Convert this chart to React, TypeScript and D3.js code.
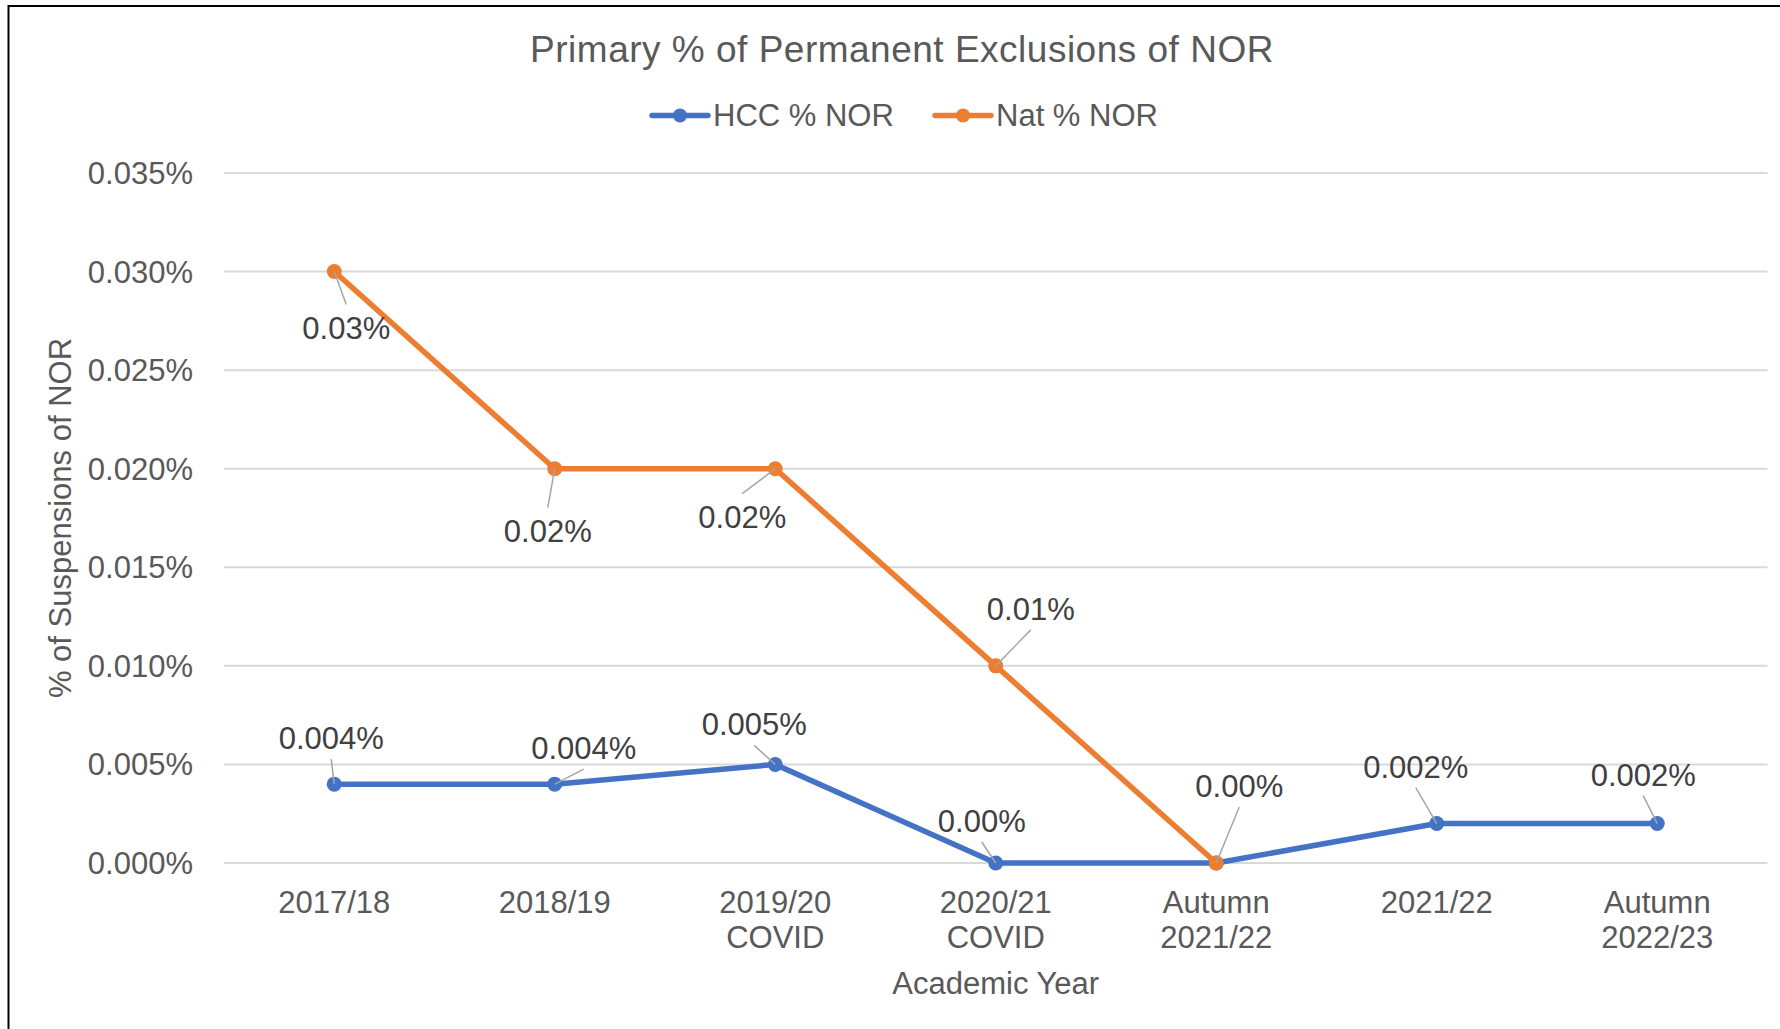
import React, { useRef, useEffect } from 'react';
import * as d3 from 'd3';

const categories = [
  '2017/18',
  '2018/19',
  '2019/20 COVID',
  '2020/21 COVID',
  'Autumn 2021/22',
  '2021/22',
  'Autumn 2022/23',
];

// values are already in percent units (0.004 means 0.004%)
const hccValues = [0.004, 0.004, 0.005, 0, 0, 0.002, 0.002];
const natValues = [0.03, 0.02, 0.02, 0.01, 0, null, null];

const yTicks = [0, 0.005, 0.01, 0.015, 0.02, 0.025, 0.03, 0.035];

// where each data label sits relative to its point (null = no label)
const hccLabelOffsets = [[-3, -46], [29, -36], [-21, -40], [-14, -42], null, [-21, -57], [-14, -49]];
const natLabelOffsets = [[12, 56], [-7, 62], [-33, 48], [35, -57], [23, -77], null, null];

const FONT = "'Liberation Sans', Arial, Helvetica, sans-serif";

const App = () => {
  const svgRef = useRef(null);

  useEffect(() => {
    const svg = d3.select(svgRef.current);
    svg.selectAll('*').remove();

    const width = 1780;
    const height = 1029;
    const left = 224;
    const right = 1767.5;
    const top = 173;
    const bottom = 863;

    svg.append('rect').attr('width', width).attr('height', height).attr('fill', '#fff');

    // chart frame (only left and top edges visible in the crop)
    svg.append('rect')
      .attr('x', 8.5).attr('y', 6)
      .attr('width', width + 20).attr('height', height + 20)
      .attr('fill', 'none')
      .attr('stroke', '#000')
      .attr('stroke-width', 2);

    const x = d3.scaleBand().domain(categories).range([left, right]).padding(0);
    const cx = (i) => x(categories[i]) + x.bandwidth() / 2;
    const y = d3.scaleLinear().domain([0, 0.035]).range([bottom, top]);

    // gridlines
    svg.append('g')
      .selectAll('line')
      .data(yTicks)
      .join('line')
      .attr('x1', left).attr('x2', right)
      .attr('y1', d => y(d)).attr('y2', d => y(d))
      .attr('stroke', '#d9d9d9')
      .attr('stroke-width', 2);

    // y tick labels
    svg.append('g')
      .selectAll('text')
      .data(yTicks)
      .join('text')
      .attr('x', 193)
      .attr('y', d => y(d) + 11)
      .attr('text-anchor', 'end')
      .attr('font-family', FONT)
      .attr('font-size', 31)
      .attr('fill', '#595959')
      .text(d => d.toFixed(3) + '%');

    // x tick labels (wrapped on spaces)
    const xLab = svg.append('g');
    categories.forEach((c, i) => {
      const t = xLab.append('text')
        .attr('x', cx(i))
        .attr('y', 913)
        .attr('text-anchor', 'middle')
        .attr('font-family', FONT)
        .attr('font-size', 31)
        .attr('fill', '#595959');
      c.split(' ').forEach((w, j) => {
        t.append('tspan').attr('x', cx(i)).attr('y', 913 + j * 35).text(w);
      });
    });

    // axis titles
    svg.append('text')
      .attr('x', (left + right) / 2)
      .attr('y', 994)
      .attr('text-anchor', 'middle')
      .attr('font-family', FONT)
      .attr('font-size', 31)
      .attr('fill', '#595959')
      .text('Academic Year');

    svg.append('text')
      .attr('transform', `translate(71,${(top + bottom) / 2}) rotate(-90)`)
      .attr('text-anchor', 'middle')
      .attr('font-family', FONT)
      .attr('font-size', 31)
      .attr('fill', '#595959')
      .text('% of Suspensions of NOR');

    // title
    svg.append('text')
      .attr('x', 902)
      .attr('y', 62)
      .attr('text-anchor', 'middle')
      .attr('font-family', FONT)
      .attr('font-size', 37)
      .attr('letter-spacing', 0.5)
      .attr('fill', '#595959')
      .text('Primary % of Permanent Exclusions of NOR');

    const series = [
      { name: 'HCC % NOR', values: hccValues, color: '#4472c4', offsets: hccLabelOffsets, legendX: 652 },
      { name: 'Nat % NOR', values: natValues, color: '#ed7d31', offsets: natLabelOffsets, legendX: 935 },
    ];

    // legend
    series.forEach(s => {
      const g = svg.append('g');
      g.append('line')
        .attr('x1', s.legendX).attr('x2', s.legendX + 56)
        .attr('y1', 115.5).attr('y2', 115.5)
        .attr('stroke', s.color).attr('stroke-width', 5.5).attr('stroke-linecap', 'round');
      g.append('circle')
        .attr('cx', s.legendX + 28).attr('cy', 115.5).attr('r', 7)
        .attr('fill', s.color);
      g.append('text')
        .attr('x', s.legendX + 61)
        .attr('y', 126)
        .attr('font-family', FONT)
        .attr('font-size', 31)
        .attr('fill', '#595959')
        .text(s.name);
    });

    const line = d3.line()
      .defined(d => d[1] !== null)
      .x(d => cx(d[0]))
      .y(d => y(d[1]));

    // lines and markers
    series.forEach(s => {
      const pts = s.values.map((v, i) => [i, v]);
      svg.append('path')
        .datum(pts)
        .attr('fill', 'none')
        .attr('stroke', s.color)
        .attr('stroke-width', 5.5)
        .attr('stroke-linejoin', 'round')
        .attr('stroke-linecap', 'round')
        .attr('d', line);
      svg.append('g')
        .selectAll('circle')
        .data(pts.filter(d => d[1] !== null))
        .join('circle')
        .attr('cx', d => cx(d[0]))
        .attr('cy', d => y(d[1]))
        .attr('r', 7.5)
        .attr('fill', s.color);
    });

    // data labels with leader lines
    const fmt = (v, maxDec) => {
      let t = v.toFixed(maxDec);
      if (maxDec === 3 && t.endsWith('0')) t = t.slice(0, -1);
      return t + '%';
    };

    series.forEach((s, si) => {
      const g = svg.append('g');
      s.values.forEach((v, i) => {
        const off = s.offsets[i];
        if (v === null || !off) return;
        const px = cx(i);
        const py = y(v);
        const lx = px + off[0];
        const ly = py + off[1];
        const startY = off[1] < 0 ? ly + 21 : ly - 23;
        g.append('line')
          .attr('x1', lx).attr('y1', startY)
          .attr('x2', px).attr('y2', py)
          .attr('stroke', '#a6a6a6')
          .attr('stroke-width', 1.5);
        g.append('text')
          .attr('x', lx)
          .attr('y', ly + 11)
          .attr('text-anchor', 'middle')
          .attr('font-family', FONT)
          .attr('font-size', 31)
          .attr('fill', '#404040')
          .text(fmt(v, si === 0 ? 3 : 2));
      });
    });
  }, []);

  return (
    <svg
      ref={svgRef}
      width={1780}
      height={1029}
      style={{ position: 'absolute', left: 0, top: 0, display: 'block' }}
    />
  );
};

export default App;
